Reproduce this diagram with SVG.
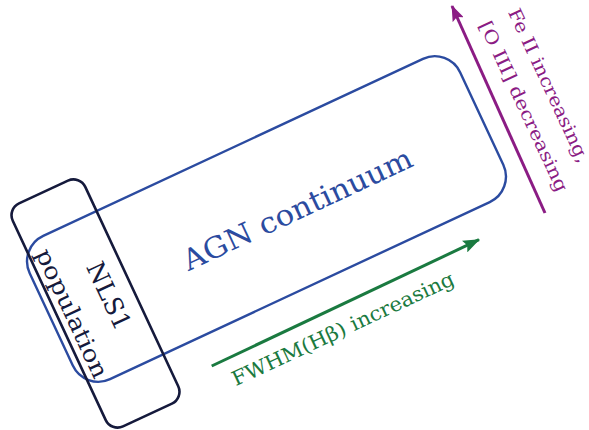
<svg xmlns="http://www.w3.org/2000/svg" width="589" height="430" viewBox="0 0 589 430">
<defs>
<style>
.lbl{font-family:"DejaVu Serif","Liberation Serif",serif;}
.blue{fill:none;stroke:#2b4ba0;stroke-width:2.4;}
.navy{fill:none;stroke:#151a3c;stroke-width:2.6;}
</style>
<marker id="ahG" markerWidth="17" markerHeight="13" refX="16" refY="6.5" orient="auto" markerUnits="userSpaceOnUse" viewBox="0 0 17 13">
<path d="M0,0 L17,6.5 L0,13 L3,6.5 z" fill="#1a7a40"/>
</marker>
<marker id="ahP" markerWidth="16" markerHeight="12" refX="15" refY="6" orient="auto" markerUnits="userSpaceOnUse" viewBox="0 0 16 12">
<path d="M0,0 L16,6 L0,12 L3,6 z" fill="#8b1c84"/>
</marker>
</defs>
<rect width="589" height="430" fill="#ffffff"/>
<g id="agn">
<rect class="blue" transform="translate(266.5,219) rotate(-25)" x="-237.5" y="-79" width="475" height="158" rx="28"/>
<text class="lbl" transform="translate(301.7,218.3) rotate(-25)" text-anchor="middle" font-size="29" fill="#2b4ba0" textLength="250" lengthAdjust="spacingAndGlyphs">AGN continuum</text>
</g>
<g id="nls1">
<rect class="navy" transform="translate(95.5,303.5) rotate(-25)" x="-40" y="-123" width="80" height="246" rx="13"/>
<text class="lbl" transform="translate(101,299.4) rotate(65)" text-anchor="middle" font-size="25" fill="#151a3c" textLength="72" lengthAdjust="spacingAndGlyphs">NLS1</text>
<text class="lbl" transform="translate(64.9,316.7) rotate(65)" text-anchor="middle" font-size="23" fill="#151a3c" textLength="140" lengthAdjust="spacingAndGlyphs">population</text>
</g>
<g id="connectors">
<line x1="211.7" y1="366" x2="479" y2="239.7" stroke="#1a7a40" stroke-width="3" marker-end="url(#ahG)"/>
<line x1="545" y1="213" x2="452" y2="6" stroke="#8b1c84" stroke-width="3" marker-end="url(#ahP)"/>
</g>
<g id="fwhm-label">
<text class="lbl" transform="translate(345.8,335) rotate(-25)" text-anchor="middle" font-size="20" fill="#1a7a40" textLength="243" lengthAdjust="spacingAndGlyphs">FWHM(Hβ) increasing</text>
</g>
<g id="feii-label">
<text class="lbl" transform="translate(507.7,12.1) rotate(65)" font-size="18" fill="#8b1c84" textLength="168" lengthAdjust="spacingAndGlyphs">Fe II increasing,</text>
<text class="lbl" transform="translate(478.8,24.8) rotate(65)" font-size="18" fill="#8b1c84" textLength="186" lengthAdjust="spacingAndGlyphs">[O III] decreasing</text>
</g>
</svg>
